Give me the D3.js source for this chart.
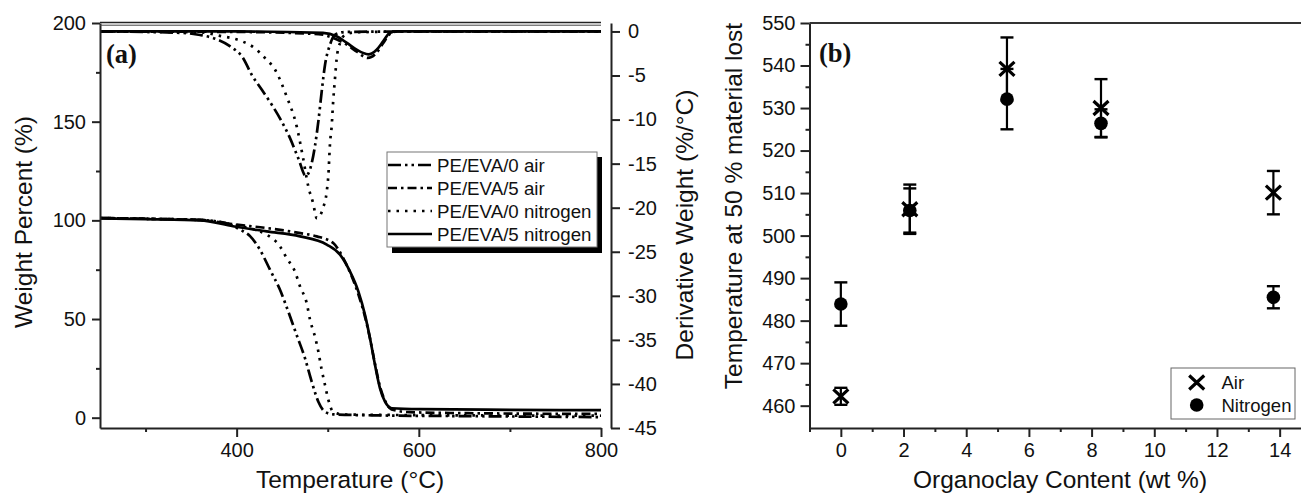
<!DOCTYPE html>
<html><head><meta charset="utf-8">
<script src="https://cdn.jsdelivr.net/npm/d3@7"></script>
<style>
html,body{margin:0;padding:0;background:#fff;}
svg text{fill:#111;}
</style></head>
<body>
<svg id="c" width="1301" height="496"></svg>
<script>
// ---------- Panel (a) data: TGA weight (%) vs temperature (°C) ----------
const tgaPE0air = [[250,101.2],[300,100.8],[360,100.2],[390,98.4],[400,96.2],[405,95],[415,91.9],[425.6,85.1],[436.6,75],[447.6,64.8],[456.7,53.8],[465.8,42],[475,30.2],[482.4,18.3],[489.7,8.1],[497,3.0],[506,1.7],[550,1.2],[650,0.8],[800,0.3]];
const tgaPE5air = [[250,101.2],[300,100.8],[360,100.2],[400,97.8],[433,96.1],[470,93.5],[487.9,91.9],[506,88.5],[517,80.9],[526,72],[534,62],[541,51],[546.5,40],[552,27],[557.5,15.5],[563,8.5],[570,4.2],[590,2.8],[650,2.3],[800,1.9]];
const tgaPE0n2  = [[250,101.2],[300,100.8],[360,100.2],[400,97.5],[420,95.3],[433,92.7],[447.6,86.8],[454.9,80.9],[464,74.1],[469.6,66.5],[476.9,58.1],[480.6,49.6],[486,41.1],[489.7,33.5],[493.4,24.2],[497,16.6],[500.7,9],[506,3],[517,1.6],[600,1.3],[800,1.0]];
const tgaPE5n2  = [[250,101],[300,100.6],[360,100],[396,97],[433,94.4],[469.6,91.9],[498.9,87.7],[513.5,82.6],[524.4,74.1],[533.6,64],[540.9,52.1],[546.4,40.3],[551.9,26.8],[557.4,14.9],[562.9,8.1],[570.2,4.8],[601,4.3],[700,4.0],[800,3.8]];
// ---------- Panel (a) data: derivative weight (%/°C) ----------
const dtgPE0air = [[250,0],[337,-0.15],[360,-0.4],[374,-0.74],[393,-1.7],[407,-3.0],[416.5,-4.9],[427.5,-6.6],[438.5,-8.3],[449.4,-10.2],[458.6,-12.1],[467.7,-14.4],[476,-16.4],[481,-15.5],[486,-13.0],[489.7,-10.2],[493.4,-6.8],[497,-3.8],[502.5,-1.5],[508,-0.36],[520,-0.05],[600,0],[800,0]];
const dtgPE5air = [[250,0],[400,-0.05],[490,-0.3],[505,-0.7],[521,-1.5],[532,-2.3],[544,-3.0],[552,-2.6],[561,-1.3],[568,-0.3],[576,0],[800,0]];
const dtgPE0n2  = [[250,0],[360,-0.1],[381.7,-0.5],[405.5,-1.1],[420,-1.9],[431,-3.0],[442,-4.3],[455,-7.4],[466,-10.8],[473,-14.4],[478.7,-17.6],[484,-19.5],[488,-21.2],[495,-20.0],[499,-18.1],[500.7,-16.3],[502.5,-12.7],[504.3,-10.8],[506,-7.9],[508,-5.3],[509.7,-3.2],[513.5,-1.3],[519,-0.4],[530,-0.1],[600,0],[800,0]];
const dtgPE5n2  = [[250,0],[400,0],[494.8,-0.17],[509.7,-0.55],[521,-1.3],[531.7,-2.07],[544.5,-2.6],[553.7,-2.07],[561,-1.1],[568,-0.17],[576,0],[800,0]];
const seriesNames = ["PE/EVA/0 air","PE/EVA/5 air","PE/EVA/0 nitrogen","PE/EVA/5 nitrogen"];
const xTicksA = [400,600,800];
const yTicksA = [0,50,100,150,200];
const yTicksR = [0,-5,-10,-15,-20,-25,-30,-35,-40,-45];

// ---------- Panel (b) data ----------
const clayContent = [0, 2.2, 5.3, 8.3, 13.8];
const airT   = [462.2, 506.2, 539.2, 530.0, 510.1];
const airErr = [2.0, 5.8, 7.4, 6.8, 5.1];
const nitT   = [483.9, 505.9, 532.1, 526.4, 485.5];
const nitErr = [5.1, 5.2, 7.1, 3.3, 2.6];
const xTicksB = [0,2,4,6,8,10,12,14];
const yTicksB = [460,470,480,490,500,510,520,530,540,550];

const svg = d3.select("#c");
const FONT = '"Liberation Sans",Arial,sans-serif';
const SERIF = '"Liberation Serif","Times New Roman",serif';
const fmt = d => String(d);

function txt(sel){ return sel.style("font-family",FONT); }

// ================= Panel (a) =================
const xA = d3.scaleLinear().domain([250,800]).range([100,601]);
const yA = d3.scaleLinear().domain([-5.22,200]).range([428,23]);
const yR = d3.scaleLinear().domain([-45,0.96]).range([428,23]);

const styles = [
  {dash:"13,4,2.5,4,2.5,4"},
  {dash:"9,4,2.5,4"},
  {dash:"2.5,6"},
  {dash:null}
];

svg.append("clipPath").attr("id","clipA").append("rect")
  .attr("x",100).attr("y",23).attr("width",501).attr("height",405);

const gA = svg.append("g").attr("clip-path","url(#clipA)");
const lineW = d3.line().x(d=>xA(d[0])).y(d=>yA(d[1])).curve(d3.curveMonotoneX);
const lineD = d3.line().x(d=>xA(d[0])).y(d=>yR(d[1])).curve(d3.curveMonotoneX);
const tga = [tgaPE0air,tgaPE5air,tgaPE0n2,tgaPE5n2];
const dtg = [dtgPE0air,dtgPE5air,dtgPE0n2,dtgPE5n2];
[3,1,2,0].forEach(i=>{
  gA.append("path").attr("d",lineW(tga[i])).attr("fill","none").attr("stroke","#000")
    .attr("stroke-width",2.7).attr("stroke-dasharray",styles[i].dash);
  gA.append("path").attr("d",lineD(dtg[i])).attr("fill","none").attr("stroke","#000")
    .attr("stroke-width",2.7).attr("stroke-dasharray",styles[i].dash);
});

// axes (a)
function styleAxis(g){
  g.selectAll(".domain").attr("stroke","#222").attr("stroke-width",2);
  g.selectAll(".tick line").attr("stroke","#222").attr("stroke-width",2);
  g.selectAll("text").style("font-family",FONT).attr("font-size",20).attr("fill","#111");
}
const axBA = svg.append("g").attr("transform","translate(0,428)")
  .call(d3.axisBottom(xA).tickValues(xTicksA).tickSize(9).tickSizeOuter(0).tickPadding(6).tickFormat(fmt));
styleAxis(axBA);
svg.append("g").attr("transform","translate(0,428)")
  .call(d3.axisBottom(xA).tickValues([300,500,700]).tickSize(4).tickSizeOuter(0).tickFormat(""))
  .call(g=>{g.select(".domain").remove(); g.selectAll("line").attr("stroke","#222").attr("stroke-width",2);});
const axLA = svg.append("g").attr("transform","translate(100,0)")
  .call(d3.axisLeft(yA).tickValues(yTicksA).tickSize(8).tickSizeOuter(0).tickPadding(6).tickFormat(fmt));
styleAxis(axLA);
svg.append("g").attr("transform","translate(100,0)")
  .call(d3.axisLeft(yA).tickValues([25,75,125,175]).tickSize(4).tickSizeOuter(0).tickFormat(""))
  .call(g=>{g.select(".domain").remove(); g.selectAll("line").attr("stroke","#222").attr("stroke-width",2);});
const axRA = svg.append("g").attr("transform","translate(611,0)")
  .call(d3.axisRight(yR).tickValues(yTicksR).tickSize(9).tickSizeOuter(0).tickPadding(8).tickFormat(fmt));
styleAxis(axRA);
// top frame lines
svg.append("line").attr("x1",100).attr("x2",601).attr("y1",22.5).attr("y2",22.5).attr("stroke","#222").attr("stroke-width",1.6);
svg.append("line").attr("x1",100).attr("x2",601).attr("y1",25.2).attr("y2",25.2).attr("stroke","#444").attr("stroke-width",1);

// titles (a)
txt(svg.append("text")).attr("x",350).attr("y",488).attr("text-anchor","middle").attr("font-size",24.5).text("Temperature (°C)");
txt(svg.append("text")).attr("transform","translate(32,222) rotate(-90)").attr("text-anchor","middle").attr("font-size",24.5).text("Weight Percent (%)");
txt(svg.append("text")).attr("transform","translate(693,225) rotate(-90)").attr("text-anchor","middle").attr("font-size",24.5).text("Derivative Weight (%/°C)");
svg.append("text").attr("x",106).attr("y",63).style("font-family",SERIF)
  .attr("font-weight","bold").attr("font-size",26.5).text("(a)");

// legend (a)
const legA = svg.append("g");
legA.append("rect").attr("x",392).attr("y",157).attr("width",210).attr("height",96).attr("fill","#000");
legA.append("rect").attr("x",387).attr("y",152).attr("width",210).attr("height",95).attr("fill","#fff").attr("stroke","#777").attr("stroke-width",1);
const rowY = [165,188,211,234];
seriesNames.forEach((n,i)=>{
  legA.append("line").attr("x1",388).attr("x2",432).attr("y1",rowY[i]).attr("y2",rowY[i])
    .attr("stroke","#000").attr("stroke-width",2.7).attr("stroke-dasharray",styles[i].dash);
  txt(legA.append("text")).attr("x",437).attr("y",rowY[i]+6.5).attr("font-size",18.7).text(n);
});

// ================= Panel (b) =================
const xB = d3.scaleLinear().domain([-1,15]).range([809.5,1311]);
const yB = d3.scaleLinear().domain([454.75,550]).range([428,23]);

const axBB = svg.append("g").attr("transform","translate(0,428)")
  .call(d3.axisBottom(xB).tickValues(xTicksB).tickSize(9).tickSizeOuter(0).tickPadding(6).tickFormat(fmt));
styleAxis(axBB);
svg.append("g").attr("transform","translate(0,428)")
  .call(d3.axisBottom(xB).tickValues([-1,1,3,5,7,9,11,13]).tickSize(4).tickSizeOuter(0).tickFormat(""))
  .call(g=>{g.select(".domain").remove(); g.selectAll("line").attr("stroke","#222").attr("stroke-width",2);});
const axLB = svg.append("g").attr("transform","translate(809.5,0)")
  .call(d3.axisLeft(yB).tickValues(yTicksB).tickSize(9).tickSizeOuter(0).tickPadding(5).tickFormat(fmt));
styleAxis(axLB);
svg.append("g").attr("transform","translate(809.5,0)")
  .call(d3.axisLeft(yB).tickValues([465,475,485,495,505,515,525,535,545]).tickSize(4).tickSizeOuter(0).tickFormat(""))
  .call(g=>{g.select(".domain").remove(); g.selectAll("line").attr("stroke","#222").attr("stroke-width",2);});
svg.append("line").attr("x1",809.5).attr("x2",1301).attr("y1",23).attr("y2",23).attr("stroke","#333").attr("stroke-width",1.8);

// error bars
const gB = svg.append("g");
function errBar(x, v, e){
  const cx = xB(x), y1 = yB(v+e), y2 = yB(v-e);
  gB.append("line").attr("x1",cx).attr("x2",cx).attr("y1",y1).attr("y2",y2).attr("stroke","#000").attr("stroke-width",2.2);
  [y1,y2].forEach(y=>gB.append("line").attr("x1",cx-6.5).attr("x2",cx+6.5).attr("y1",y).attr("y2",y).attr("stroke","#000").attr("stroke-width",2.4));
}
clayContent.forEach((c,i)=>{ errBar(c, nitT[i], nitErr[i]); errBar(c, airT[i], airErr[i]); });
function xMark(g, cx, cy){
  g.append("path").attr("d",`M${cx-7.5},${cy-7}L${cx+7.5},${cy+7}M${cx-7.5},${cy+7}L${cx+7.5},${cy-7}`)
    .attr("stroke","#000").attr("stroke-width",3.2).attr("fill","none");
}
clayContent.forEach((c,i)=>{
  gB.append("circle").attr("cx",xB(c)).attr("cy",yB(nitT[i])).attr("r",6.8).attr("fill","#000");
  xMark(gB, xB(c), yB(airT[i]));
});

// titles (b)
txt(svg.append("text")).attr("x",1060).attr("y",488).attr("text-anchor","middle").attr("font-size",24.5).text("Organoclay Content (wt %)");
txt(svg.append("text")).attr("transform","translate(742,206) rotate(-90)").attr("text-anchor","middle").attr("font-size",24.5).text("Temperature at 50 % material lost");
svg.append("text").attr("x",819).attr("y",62).style("font-family",SERIF)
  .attr("font-weight","bold").attr("font-size",26.5).text("(b)");

// legend (b)
const legB = svg.append("g");
legB.append("rect").attr("x",1171).attr("y",368).attr("width",124).attr("height",51).attr("fill","#fff").attr("stroke","#666").attr("stroke-width",1);
xMark(legB, 1196.7, 382.5);
legB.append("circle").attr("cx",1196.7).attr("cy",405).attr("r",6.8).attr("fill","#000");
txt(legB.append("text")).attr("x",1221.5).attr("y",389).attr("font-size",18.5).text("Air");
txt(legB.append("text")).attr("x",1221.5).attr("y",411.5).attr("font-size",18.5).text("Nitrogen");
</script>
</body></html>
